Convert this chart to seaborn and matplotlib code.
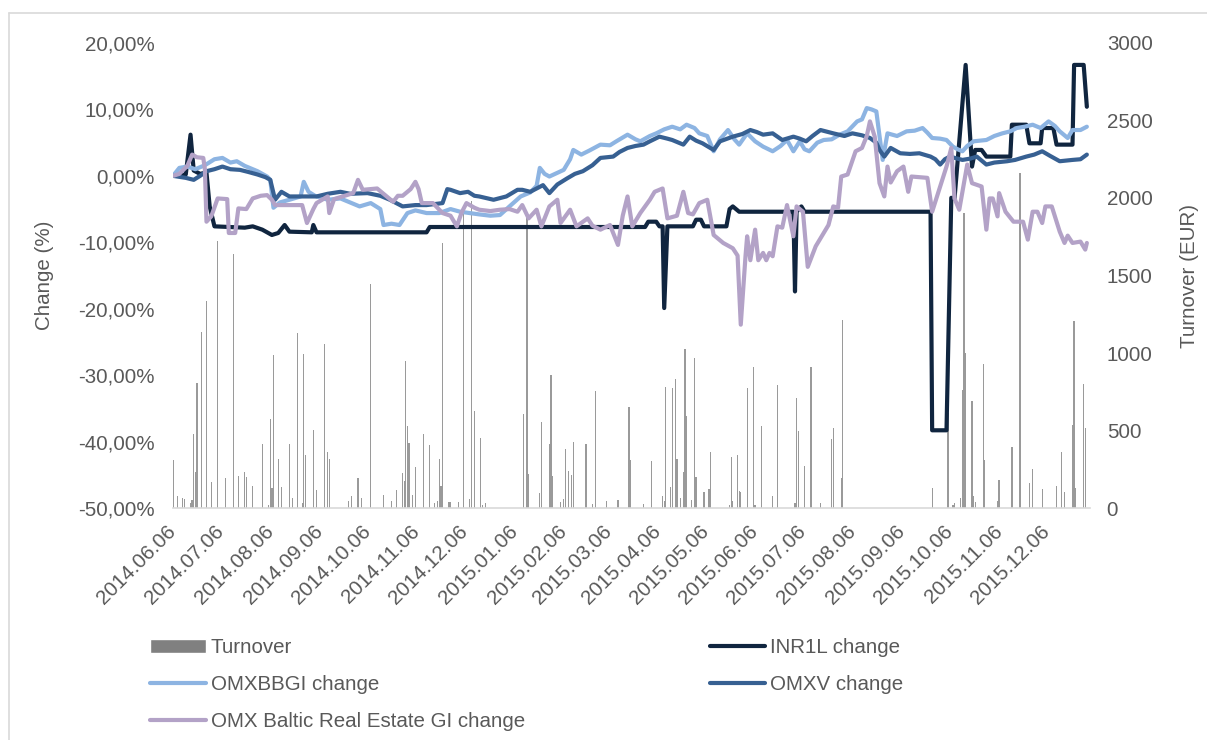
import pandas as pd
import numpy as np
import matplotlib
matplotlib.use("Agg")
import matplotlib.pyplot as plt
import matplotlib.dates as mdates
from matplotlib.lines import Line2D
from matplotlib.patches import Patch
from matplotlib.ticker import FuncFormatter, MultipleLocator
import seaborn as sns

# INR1L change (%)
inr_dates = ["2014-06-06", "2014-06-14", "2014-06-17", "2014-06-19", "2014-06-23", "2014-06-27", "2014-06-29",
             "2014-07-02", "2014-07-21", "2014-07-26", "2014-08-01", "2014-08-07", "2014-08-11", "2014-08-15",
             "2014-08-18", "2014-09-01", "2014-09-02", "2014-09-04", "2014-11-12", "2014-11-14", "2015-03-29",
             "2015-03-31", "2015-04-05", "2015-04-07", "2015-04-09", "2015-04-10", "2015-04-12", "2015-04-28",
             "2015-04-30", "2015-05-03", "2015-05-05", "2015-05-19", "2015-05-21", "2015-05-23", "2015-05-27",
             "2015-06-30", "2015-07-01", "2015-07-02", "2015-07-05", "2015-07-07", "2015-09-24", "2015-09-25",
             "2015-10-04", "2015-10-07", "2015-10-09", "2015-10-16", "2015-10-20", "2015-10-22", "2015-10-26",
             "2015-10-29", "2015-11-13", "2015-11-14", "2015-11-23", "2015-11-25", "2015-12-02", "2015-12-03",
             "2015-12-10", "2015-12-12", "2015-12-22", "2015-12-23", "2015-12-29", "2015-12-31"]
inr_change = [0.0, 0.2, 6.2, 0.8, 0.3, 0.5, -4.6, -7.6, -7.8, -7.6, -8.1, -8.9, -8.6, -7.4, -8.4, -8.5, -7.4,
              -8.5, -8.5, -7.7, -7.7, -6.9, -6.9, -7.6, -7.6, -19.9, -7.6, -7.6, -6.6, -6.6, -7.6, -7.6, -5.0,
              -4.6, -5.4, -5.4, -17.4, -5.4, -4.6, -5.4, -5.4, -38.3, -38.3, -3.3, -3.5, 16.7, 1.4, 3.9, 3.9,
              2.9, 2.9, 7.7, 7.7, 4.9, 4.9, 7.2, 7.2, 4.7, 4.7, 16.7, 16.7, 10.4]

# OMXBBGI change (%)
omxbbgi_dates = ["2014-06-06", "2014-06-10", "2014-06-15", "2014-06-20", "2014-06-26", "2014-07-02", "2014-07-07",
                 "2014-07-12", "2014-07-16", "2014-07-21", "2014-07-29", "2014-08-04", "2014-08-06", "2014-08-08",
                 "2014-08-12", "2014-08-18", "2014-08-25", "2014-08-27", "2014-08-30", "2014-09-03", "2014-09-11",
                 "2014-09-19", "2014-09-25", "2014-10-01", "2014-10-08", "2014-10-14", "2014-10-16", "2014-10-21",
                 "2014-10-26", "2014-10-31", "2014-11-05", "2014-11-12", "2014-11-20", "2014-11-27", "2014-12-03",
                 "2014-12-09", "2014-12-15", "2014-12-22", "2014-12-28", "2015-01-03", "2015-01-10", "2015-01-16",
                 "2015-01-20", "2015-01-22", "2015-01-25", "2015-01-28", "2015-02-06", "2015-02-10", "2015-02-12",
                 "2015-02-17", "2015-02-22", "2015-03-01", "2015-03-07", "2015-03-11", "2015-03-18", "2015-03-23",
                 "2015-03-26", "2015-04-01", "2015-04-05", "2015-04-10", "2015-04-15", "2015-04-20", "2015-04-24",
                 "2015-04-29", "2015-05-02", "2015-05-07", "2015-05-11", "2015-05-15", "2015-05-20", "2015-05-24",
                 "2015-05-27", "2015-06-01", "2015-06-06", "2015-06-11", "2015-06-17", "2015-06-22", "2015-06-26",
                 "2015-06-30", "2015-07-04", "2015-07-07", "2015-07-10", "2015-07-15", "2015-07-19", "2015-07-24",
                 "2015-07-29", "2015-08-03", "2015-08-09", "2015-08-12", "2015-08-15", "2015-08-18", "2015-08-21",
                 "2015-08-23", "2015-08-25", "2015-08-28", "2015-09-03", "2015-09-09", "2015-09-14", "2015-09-19",
                 "2015-09-22", "2015-09-25", "2015-09-30", "2015-10-04", "2015-10-08", "2015-10-11", "2015-10-14",
                 "2015-10-17", "2015-10-21", "2015-10-25", "2015-10-29", "2015-11-03", "2015-11-08", "2015-11-13",
                 "2015-11-17", "2015-11-22", "2015-11-27", "2015-12-02", "2015-12-07", "2015-12-11", "2015-12-14",
                 "2015-12-19", "2015-12-22", "2015-12-27", "2015-12-31"]
omxbbgi_change = [0.0, 1.2, 1.4, 1.0, 1.6, 2.5, 2.7, 2.0, 2.2, 1.5, 0.7, -0.1, -0.6, -4.8, -4.0, -3.6, -3.1,
                  -0.9, -2.4, -3.0, -3.6, -3.4, -4.0, -4.6, -4.1, -5.0, -7.4, -7.2, -7.4, -5.6, -5.2, -5.6, -5.6,
                  -5.0, -5.4, -5.6, -5.8, -6.0, -5.9, -4.6, -3.1, -2.5, -1.5, 1.2, 0.3, -0.1, 0.9, 2.5, 3.9, 3.2,
                  3.8, 4.7, 4.6, 5.2, 6.2, 5.5, 5.2, 6.0, 6.4, 7.0, 7.4, 7.0, 7.7, 7.2, 6.4, 6.0, 3.7, 5.5, 6.9,
                  5.5, 4.7, 6.4, 5.2, 4.4, 3.7, 4.5, 5.4, 3.7, 5.2, 4.0, 3.7, 5.0, 5.4, 5.5, 6.2, 6.7, 8.2, 8.5,
                  10.2, 10.0, 9.7, 6.0, 2.4, 6.4, 6.0, 6.7, 6.8, 7.2, 6.5, 5.7, 5.6, 5.4, 4.4, 4.0, 3.7, 4.5, 5.2,
                  5.3, 5.4, 6.0, 6.4, 6.7, 7.2, 7.4, 7.7, 7.2, 8.2, 7.5, 6.7, 5.7, 6.9, 6.9, 7.4]

# OMXV change (%)
omxv_dates = ["2014-06-06", "2014-06-14", "2014-06-19", "2014-06-23", "2014-06-27", "2014-07-02", "2014-07-07",
              "2014-07-12", "2014-07-18", "2014-07-23", "2014-07-29", "2014-08-03", "2014-08-06", "2014-08-09",
              "2014-08-13", "2014-08-18", "2014-08-25", "2014-09-04", "2014-09-11", "2014-09-19", "2014-09-25",
              "2014-10-06", "2014-10-14", "2014-10-20", "2014-10-28", "2014-11-05", "2014-11-12", "2014-11-22",
              "2014-11-25", "2014-11-27", "2014-12-03", "2014-12-08", "2014-12-12", "2014-12-15", "2014-12-24",
              "2015-01-01", "2015-01-08", "2015-01-11", "2015-01-16", "2015-01-24", "2015-01-28", "2015-02-02",
              "2015-02-08", "2015-02-13", "2015-02-18", "2015-02-24", "2015-03-01", "2015-03-09", "2015-03-13",
              "2015-03-18", "2015-03-23", "2015-03-28", "2015-04-01", "2015-04-07", "2015-04-12", "2015-04-15",
              "2015-04-22", "2015-04-26", "2015-04-30", "2015-05-04", "2015-05-11", "2015-05-15", "2015-05-23",
              "2015-05-29", "2015-06-03", "2015-06-07", "2015-06-11", "2015-06-17", "2015-06-23", "2015-06-30",
              "2015-07-04", "2015-07-08", "2015-07-12", "2015-07-17", "2015-07-25", "2015-08-01", "2015-08-06",
              "2015-08-12", "2015-08-17", "2015-08-21", "2015-08-23", "2015-08-26", "2015-08-30", "2015-09-05",
              "2015-09-11", "2015-09-17", "2015-09-24", "2015-09-27", "2015-09-30", "2015-10-03", "2015-10-06",
              "2015-10-14", "2015-10-19", "2015-10-23", "2015-10-29", "2015-11-03", "2015-11-11", "2015-11-16",
              "2015-11-23", "2015-11-28", "2015-12-03", "2015-12-08", "2015-12-14", "2015-12-22", "2015-12-27",
              "2015-12-31"]
omxv_change = [0.0, -0.3, -0.6, 0.0, 0.7, 1.0, 1.4, 1.0, 0.9, 0.6, 0.2, -0.2, -0.6, -3.6, -2.4, -3.1, -3.1,
               -3.1, -2.7, -2.4, -2.7, -2.6, -3.0, -3.6, -4.6, -4.4, -4.4, -4.1, -2.0, -2.1, -2.6, -2.4, -3.0,
               -3.1, -3.6, -3.1, -2.1, -2.1, -2.4, -1.4, -2.6, -1.3, -0.4, 0.3, 0.7, 1.6, 2.7, 2.9, 3.6, 4.2,
               4.5, 4.7, 5.2, 5.9, 5.6, 5.4, 4.7, 5.9, 5.3, 4.9, 3.9, 5.2, 5.9, 6.3, 6.9, 6.6, 6.2, 6.4, 5.4,
               5.9, 5.6, 5.2, 6.0, 6.9, 6.4, 6.0, 6.4, 6.1, 5.7, 5.0, 3.9, 2.9, 4.2, 3.4, 3.3, 3.4, 2.9, 2.5,
               1.7, 2.5, 2.9, 2.4, 2.6, 2.9, 1.7, 2.0, 2.2, 2.4, 2.9, 3.2, 3.7, 3.0, 2.2, 2.4, 2.5, 3.2]

# OMX Baltic Real Estate GI change (%)
re_dates = ["2014-06-06", "2014-06-10", "2014-06-15", "2014-06-18", "2014-06-21", "2014-06-25", "2014-06-26",
            "2014-06-27", "2014-06-30", "2014-07-04", "2014-07-10", "2014-07-11", "2014-07-15", "2014-07-17",
            "2014-07-22", "2014-07-26", "2014-07-31", "2014-08-04", "2014-08-07", "2014-08-09", "2014-08-26",
            "2014-08-29", "2014-09-02", "2014-09-04", "2014-09-11", "2014-09-12", "2014-09-15", "2014-09-19",
            "2014-09-27", "2014-09-30", "2014-10-03", "2014-10-12", "2014-10-17", "2014-10-22", "2014-10-25",
            "2014-10-28", "2014-11-02", "2014-11-05", "2014-11-07", "2014-11-09", "2014-11-16", "2014-11-22",
            "2014-11-27", "2014-12-01", "2014-12-04", "2014-12-07", "2014-12-12", "2014-12-15", "2014-12-22",
            "2014-12-28", "2015-01-03", "2015-01-08", "2015-01-11", "2015-01-15", "2015-01-20", "2015-01-23",
            "2015-01-28", "2015-02-02", "2015-02-04", "2015-02-10", "2015-02-14", "2015-02-21", "2015-02-24",
            "2015-03-01", "2015-03-07", "2015-03-12", "2015-03-15", "2015-03-18", "2015-03-21", "2015-03-26",
            "2015-04-01", "2015-04-04", "2015-04-09", "2015-04-12", "2015-04-18", "2015-04-22", "2015-04-25",
            "2015-04-28", "2015-05-02", "2015-05-07", "2015-05-11", "2015-05-17", "2015-05-23", "2015-05-26",
            "2015-05-28", "2015-05-31", "2015-06-01", "2015-06-03", "2015-06-06", "2015-06-08", "2015-06-11",
            "2015-06-13", "2015-06-15", "2015-06-17", "2015-06-20", "2015-06-23", "2015-06-26", "2015-06-30",
            "2015-07-02", "2015-07-06", "2015-07-09", "2015-07-14", "2015-07-17", "2015-07-22", "2015-07-25",
            "2015-07-28", "2015-07-30", "2015-08-03", "2015-08-08", "2015-08-12", "2015-08-15", "2015-08-17",
            "2015-08-20", "2015-08-23", "2015-08-26", "2015-08-28", "2015-08-30", "2015-09-03", "2015-09-07",
            "2015-09-10", "2015-09-12", "2015-09-22", "2015-09-25", "2015-09-30", "2015-10-04", "2015-10-07",
            "2015-10-09", "2015-10-12", "2015-10-17", "2015-10-20", "2015-10-26", "2015-10-29", "2015-10-31",
            "2015-11-02", "2015-11-05", "2015-11-06", "2015-11-10", "2015-11-15", "2015-11-21", "2015-11-24",
            "2015-11-27", "2015-11-30", "2015-12-03", "2015-12-05", "2015-12-09", "2015-12-14", "2015-12-17",
            "2015-12-19", "2015-12-22", "2015-12-27", "2015-12-30", "2015-12-31"]
re_change = [0.0, 0.3, 1.5, 3.2, 2.8, 2.7, 1.0, -6.9, -6.1, -3.4,
             -3.5, -8.6, -8.6, -4.9, -5.0, -3.4, -3.0, -2.9, -3.6, -4.4,
             -4.4, -7.1, -5.0, -4.1, -3.1, -5.6, -3.5, -3.2, -2.6, -0.6,
             -2.1, -1.9, -2.9, -3.9, -3.0, -3.0, -2.0, -0.9, -2.0, -4.1,
             -4.1, -5.6, -6.0, -7.6, -5.5, -4.1, -4.8, -5.1, -5.3, -5.1,
             -5.0, -5.4, -4.4, -6.4, -5.1, -7.6, -4.6, -3.6, -7.1, -5.1,
             -7.6, -6.4, -7.5, -8.1, -7.4, -10.4, -6.0, -3.1, -7.6, -5.6,
             -3.6, -2.4, -1.9, -6.4, -6.0, -2.4, -5.6, -5.8, -4.1, -3.6,
             -8.9, -10.1, -10.9, -12.0, -22.4, -12.0, -9.1, -12.7, -8.1, -12.7,
             -11.6, -12.7, -11.6, -12.1, -7.6, -7.8, -4.4, -9.1, -4.6, -5.4,
             -13.7, -10.6, -9.4, -7.4, -4.6, -4.8, -0.1, 0.2, 3.7, 4.2,
             6.0, 8.2, 5.9, -1.1, -3.1, 1.4, -1.0, 0.7, 1.4, -2.4,
             -0.1, -0.3, -5.4, -1.6, 1.4, 4.2, -3.4, -5.1, 1.7, -1.1,
             -1.6, -8.1, -3.4, -3.4, -6.1, -2.6, -5.4, -6.9, -6.9, -9.6,
             -5.4, -5.4, -7.1, -4.6, -4.6, -8.4, -10.1, -9.0, -10.1, -9.9,
             -11.1, -10.1]

# Turnover (EUR)
turnover_dates = ["2014-06-06", "2014-06-09", "2014-06-12", "2014-06-13", "2014-06-17", "2014-06-18", "2014-06-19",
                  "2014-06-20", "2014-06-21", "2014-06-24", "2014-06-27", "2014-06-30", "2014-07-04", "2014-07-09",
                  "2014-07-14", "2014-07-17", "2014-07-21", "2014-07-22", "2014-07-26", "2014-08-01", "2014-08-05",
                  "2014-08-06", "2014-08-07", "2014-08-08", "2014-08-11", "2014-08-13", "2014-08-18", "2014-08-20",
                  "2014-08-23", "2014-08-26", "2014-08-27", "2014-08-28", "2014-09-02", "2014-09-04", "2014-09-09",
                  "2014-09-11", "2014-09-12", "2014-09-24", "2014-09-26", "2014-09-30", "2014-10-02", "2014-10-08",
                  "2014-10-16", "2014-10-21", "2014-10-24", "2014-10-28", "2014-10-29", "2014-10-30", "2014-10-31",
                  "2014-11-01", "2014-11-03", "2014-11-05", "2014-11-10", "2014-11-14", "2014-11-17", "2014-11-19",
                  "2014-11-20", "2014-11-21", "2014-11-22", "2014-11-26", "2014-11-27", "2014-12-02", "2014-12-05",
                  "2014-12-09", "2014-12-10", "2014-12-12", "2014-12-16", "2014-12-17", "2014-12-19",
                  "2015-01-12", "2015-01-14", "2015-01-15", "2015-01-22", "2015-01-23", "2015-01-28", "2015-01-29",
                  "2015-01-30", "2015-02-04", "2015-02-06", "2015-02-07", "2015-02-09", "2015-02-11", "2015-02-12",
                  "2015-02-20", "2015-02-24", "2015-02-26", "2015-03-05", "2015-03-12", "2015-03-19", "2015-03-20",
                  "2015-03-28", "2015-04-02", "2015-04-09", "2015-04-10", "2015-04-11", "2015-04-14", "2015-04-15",
                  "2015-04-17", "2015-04-18", "2015-04-20", "2015-04-22", "2015-04-23", "2015-04-24", "2015-04-27",
                  "2015-04-29", "2015-04-30", "2015-05-05", "2015-05-08", "2015-05-09", "2015-05-21", "2015-05-22",
                  "2015-05-23", "2015-05-26", "2015-05-27", "2015-05-28", "2015-06-01", "2015-06-05", "2015-06-06",
                  "2015-06-10", "2015-06-17", "2015-06-20", "2015-07-01", "2015-07-02", "2015-07-03", "2015-07-07",
                  "2015-07-11", "2015-07-17", "2015-07-24", "2015-07-25", "2015-07-30", "2015-07-31", "2015-09-25",
                  "2015-10-05", "2015-10-08", "2015-10-09", "2015-10-13", "2015-10-14", "2015-10-15", "2015-10-16",
                  "2015-10-20", "2015-10-21", "2015-10-22", "2015-10-27", "2015-10-28", "2015-11-05", "2015-11-06",
                  "2015-11-14", "2015-11-19", "2015-11-25", "2015-11-27", "2015-12-03", "2015-12-12", "2015-12-15",
                  "2015-12-17", "2015-12-22", "2015-12-23", "2015-12-24", "2015-12-29", "2015-12-30"]
turnover_eur = [310, 77, 65, 60, 30, 50, 477, 232, 806, 1138, 1335, 168, 1723, 196,
                1636, 209, 234, 202, 144, 413, 20, 574, 131, 987, 316, 138, 411, 64,
                1127, 32, 991, 340, 503, 116, 1056, 363, 316, 45, 77, 194, 64, 1445,
                84, 47, 116, 224, 174, 950, 529, 417, 84, 267, 475, 406, 32, 45,
                316, 142, 1712, 40, 40, 40, 1950, 58, 1980, 626, 449, 20, 30,
                605, 1900, 219, 95, 557, 411, 856, 206, 37, 60, 381, 239, 213, 428,
                411, 26, 755, 47, 54, 652, 310, 26, 303, 75, 43, 779, 133, 774,
                830, 316, 64, 232, 1024, 594, 50, 968, 198, 101, 123, 361, 17, 327,
                47, 342, 108, 101, 774, 910, 21, 529, 80, 794, 32, 707, 499, 271,
                908, 32, 443, 516, 196, 1213, 131, 616, 21, 30, 66, 764, 1900, 1002,
                693, 75, 40, 929, 310, 45, 180, 393, 2160, 160, 254, 124, 140, 360,
                105, 535, 1208, 130, 800, 516]

series_order = ["INR1L change", "OMXBBGI change", "OMXV change", "OMX Baltic Real Estate GI change"]
colors = {"INR1L change": "#10253F", "OMXBBGI change": "#8DB4E2",
          "OMXV change": "#376092", "OMX Baltic Real Estate GI change": "#B3A2C7"}

lines_df = pd.concat([
    pd.DataFrame({"date": pd.to_datetime(inr_dates), "change": inr_change, "series": series_order[0]}),
    pd.DataFrame({"date": pd.to_datetime(omxbbgi_dates), "change": omxbbgi_change, "series": series_order[1]}),
    pd.DataFrame({"date": pd.to_datetime(omxv_dates), "change": omxv_change, "series": series_order[2]}),
    pd.DataFrame({"date": pd.to_datetime(re_dates), "change": re_change, "series": series_order[3]}),
], ignore_index=True)
turnover_df = pd.DataFrame({"date": pd.to_datetime(turnover_dates), "eur": turnover_eur})

sns.set_style("white")
plt.rcParams["font.family"] = ["Liberation Sans", "DejaVu Sans"]
txt = "#595959"
fs = 14.8

fig = plt.figure(figsize=(12.07, 7.40), dpi=100)
ax = fig.add_axes([0.1431, 0.3135, 0.7600, 0.6284])
ax2 = ax.twinx()
ax.set_zorder(2)
ax2.set_zorder(1)
ax.patch.set_visible(False)

# turnover bars on the right axis, behind the lines
ax2.bar(turnover_df["date"], turnover_df["eur"], width=0.8, color="#9A9A9A", linewidth=0)

sns.lineplot(data=lines_df, x="date", y="change", hue="series", hue_order=series_order,
             palette=colors, linewidth=3.0, estimator=None, sort=False, legend=False, ax=ax)
for ln in ax.lines:
    ln.set_solid_capstyle("round")
    ln.set_solid_joinstyle("round")

ax.set_ylim(-50, 20)
ax.yaxis.set_major_locator(MultipleLocator(10))
ax.yaxis.set_major_formatter(FuncFormatter(lambda v, p: f"{v:.2f}%".replace(".", ",")))
ax2.set_ylim(0, 3000)
ax2.yaxis.set_major_locator(MultipleLocator(500))

ax.set_xlim(pd.Timestamp("2014-06-05 20:00"), pd.Timestamp("2016-01-02"))
month_ticks = pd.date_range("2014-06-01", "2015-12-01", freq="MS") + pd.Timedelta(days=5)
ax.set_xticks(month_ticks)
ax.xaxis.set_major_formatter(mdates.DateFormatter("%Y.%m.%d"))
ax.tick_params(axis="x", labelrotation=45, length=4, width=1, color="#D9D9D9",
               labelsize=fs, labelcolor=txt, pad=11)
plt.setp(ax.get_xticklabels(), ha="right", va="center", rotation_mode="anchor")
ax.tick_params(axis="y", length=0, labelsize=fs, labelcolor=txt, pad=13)
ax2.tick_params(axis="y", length=0, labelsize=fs, labelcolor=txt, pad=12)

for a in (ax, ax2):
    for s in a.spines.values():
        s.set_visible(False)
ax.spines["bottom"].set_visible(True)
ax.spines["bottom"].set_color("#D9D9D9")
ax.spines["bottom"].set_linewidth(1.2)

ax.set_xlabel("")
ax.set_ylabel("Change (%)", fontsize=fs, color=txt, labelpad=17)
ax2.set_ylabel("Turnover (EUR)", fontsize=fs, color=txt, labelpad=20)

handles = [
    Patch(facecolor="#808080", label="Turnover"),
    Line2D([], [], color=colors["OMXBBGI change"], lw=3, solid_capstyle="round", label="OMXBBGI change"),
    Line2D([], [], color=colors["OMX Baltic Real Estate GI change"], lw=3, solid_capstyle="round",
           label="OMX Baltic Real Estate GI change"),
    Line2D([], [], color=colors["INR1L change"], lw=3, solid_capstyle="round", label="INR1L change"),
    Line2D([], [], color=colors["OMXV change"], lw=3, solid_capstyle="round", label="OMXV change"),
]
fig.legend(handles=handles, loc="upper left", bbox_to_anchor=(150 / 1207, 1 - 638 / 740), ncol=2,
           frameon=False, fontsize=fs, handlelength=2.7, handletextpad=0.25, columnspacing=9.0,
           labelspacing=0.88, borderpad=0, borderaxespad=0, labelcolor=txt)

# light frame around the chart area
fig.add_artist(Line2D([9 / 1207, 9 / 1207], [0, 1 - 13 / 740], transform=fig.transFigure,
                      color="#D9D9D9", lw=1.2))
fig.add_artist(Line2D([9 / 1207, 1], [1 - 13 / 740, 1 - 13 / 740], transform=fig.transFigure,
                      color="#D9D9D9", lw=1.2))

fig.savefig("out.png", dpi=100)
